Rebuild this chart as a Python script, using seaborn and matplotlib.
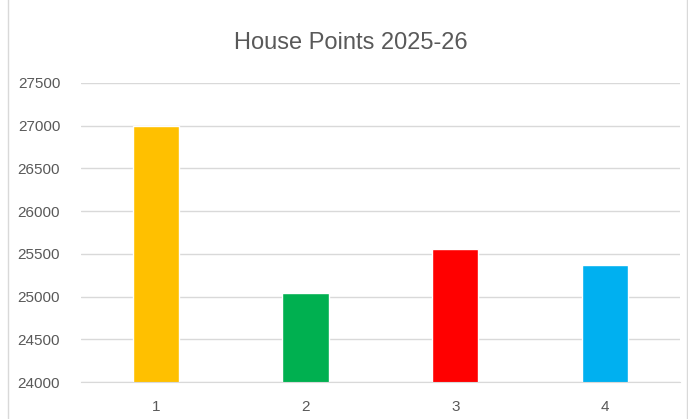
import matplotlib
matplotlib.use("Agg")
import matplotlib.pyplot as plt
import seaborn as sns
import pandas as pd
from matplotlib.patches import Rectangle

# Data
houses = ["1", "2", "3", "4"]
points = [26993, 25045, 25555, 25370]
colours = ["#FFC000", "#00B050", "#FF0000", "#00B0F0"]
yticks = [24000, 24500, 25000, 25500, 26000, 26500, 27000, 27500]

df = pd.DataFrame({"house": houses, "points": points})

sns.set_style("white")
plt.rcParams["font.family"] = ["Liberation Sans", "DejaVu Sans"]

fig = plt.figure(figsize=(6.88, 4.19), dpi=100)
ax = fig.add_axes([0.1177, 0.0883, 0.8703, 0.7137])

sns.barplot(data=df, x="house", y="points", hue="house", palette=colours,
            legend=False, width=0.31, ax=ax, saturation=1)

ax.set_ylim(24000, 27500)
ax.set_yticks(yticks)
ax.set_xlim(-0.5, 3.5)
ax.yaxis.grid(True, color="#D9D9D9", linewidth=1)
ax.set_axisbelow(True)
for s in ["top", "right", "left"]:
    ax.spines[s].set_visible(False)
ax.spines["bottom"].set_color("#D9D9D9")
ax.tick_params(axis="both", colors="#595959", labelsize=11, length=0)
ax.tick_params(axis="y", pad=15)
ax.tick_params(axis="x", pad=13)
ax.set_xlabel("")
ax.set_ylabel("")

fig.text(0.51, 0.897, "House Points 2025-26", ha="center", va="center",
         fontsize=17, color="#595959")

# chart border
fig.patches.append(Rectangle((0.012, -0.01), 0.986, 1.02, transform=fig.transFigure,
                             fill=False, edgecolor="#D9D9D9", linewidth=1))

fig.savefig("out.png", dpi=100)
